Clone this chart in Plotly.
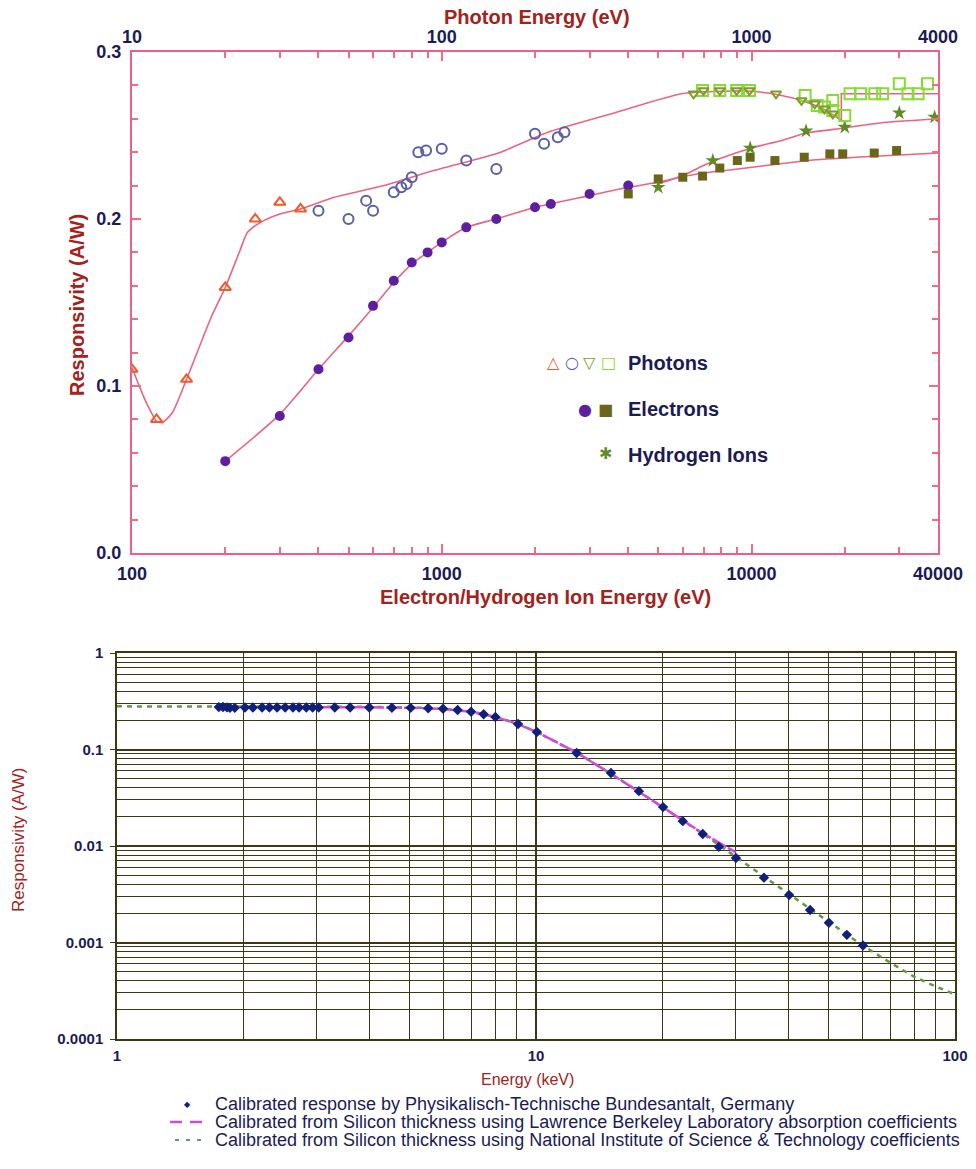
import plotly.graph_objects as go

# ---------------- Upper panel: responsivity vs energy ----------------
# Photon measurements (photon energy in eV, responsivity in A/W)
ph_tri_e = [10, 12, 15, 20, 25, 30, 35]
ph_tri_r = [0.110, 0.080, 0.104, 0.159, 0.200, 0.210, 0.206]

ph_circ_e = [40, 50, 57, 60, 70, 74, 77, 80, 84, 89, 100, 120, 150, 200, 214, 237, 249]
ph_circ_r = [0.205, 0.200, 0.211, 0.205, 0.216, 0.219, 0.221, 0.225, 0.240, 0.241,
             0.242, 0.235, 0.230, 0.251, 0.245, 0.249, 0.252]

ph_vtri_e = [650, 700, 790, 895, 985, 1200, 1450, 1600, 1720, 1830]
ph_vtri_r = [0.275, 0.277, 0.277, 0.277, 0.277, 0.275, 0.271, 0.269, 0.266, 0.263]

ph_sq_e = [695, 790, 895, 985, 1490, 1630, 1720, 1830, 1830, 2000, 2080, 2250,
           2500, 2650, 3000, 3200, 3450, 3700]
ph_sq_r = [0.277, 0.277, 0.277, 0.277, 0.274, 0.268, 0.267, 0.271, 0.265, 0.262,
           0.275, 0.275, 0.275, 0.275, 0.281, 0.275, 0.275, 0.281]

# Photon fit curve (below and above the Si K edge)
ph_fit_e = [10, 11, 12, 12.5, 13.5, 15, 18, 20, 22.3, 23.6, 26, 30, 35, 45, 65, 94,
            134, 155, 220, 360, 594, 800, 1000, 1250, 1450, 1700, 1950]
ph_fit_r = [0.111, 0.092, 0.079, 0.078, 0.084, 0.104, 0.141, 0.159, 0.181, 0.192,
            0.198, 0.203, 0.206, 0.213, 0.220, 0.229, 0.2365, 0.240, 0.252, 0.2635,
            0.275, 0.2765, 0.2765, 0.274, 0.271, 0.266, 0.259]
ph_edge_e = [1950, 1950, 4000]
ph_edge_r = [0.259, 0.275, 0.275]

# Electron measurements (eV)
el_circ_e = [200, 300, 400, 500, 600, 700, 800, 900, 1000, 1200, 1500, 2000, 2250, 3000, 4000]
el_circ_r = [0.055, 0.082, 0.110, 0.129, 0.148, 0.163, 0.174, 0.180, 0.186, 0.195,
             0.200, 0.207, 0.209, 0.215, 0.220]

el_sq_e = [4000, 5000, 6000, 6950, 7900, 9000, 9900, 11900, 14800, 17900, 19700, 24900, 29400]
el_sq_r = [0.215, 0.224, 0.225, 0.2257, 0.2305, 0.235, 0.237, 0.235, 0.237, 0.239,
           0.239, 0.2395, 0.241]

el_fit_e = [200, 300, 400, 500, 600, 700, 800, 900, 1000, 1200, 1500, 2000, 3000,
            4000, 5000, 5900, 7000, 9600, 15800, 26000, 40000]
el_fit_r = [0.055, 0.083, 0.110, 0.130, 0.147, 0.162, 0.173, 0.180, 0.186, 0.195,
            0.200, 0.207, 0.214, 0.219, 0.222, 0.225, 0.2275, 0.2305, 0.2353, 0.2377, 0.2395]

# Hydrogen ion measurements (eV)
h_e = [5000, 7500, 9900, 15000, 20000, 30000, 39000]
h_r = [0.219, 0.235, 0.2425, 0.2527, 0.255, 0.2635, 0.261]

h_fit_e = [5000, 6000, 7000, 8000, 10000, 12500, 15000, 20000, 26000, 40000]
h_fit_r = [0.221, 0.226, 0.232, 0.2365, 0.2425, 0.247, 0.2515, 0.2545, 0.2575, 0.2600]

# Axis ticks
top_ticks = [10, 100, 1000, 4000]
bot_ticks = [100, 1000, 10000, 40000]
y1_ticks = [0.0, 0.1, 0.2, 0.3]

# ---------------- Lower panel: responsivity vs X-ray energy ----------------
ptb_e = [1.75, 1.79, 1.83, 1.86, 1.91, 2.02, 2.11, 2.22, 2.31, 2.41, 2.52, 2.63, 2.72,
         2.83, 2.93, 3.03, 3.31, 3.6, 4.0, 4.53, 5.02, 5.53, 6.0, 6.5, 7.0, 7.5, 8.0,
         9.06, 10.05, 12.5, 15.1, 17.6, 20.1, 22.4, 25.0, 27.3, 30.0, 35.0, 40.2,
         45.1, 50.0, 55.2, 60.3]
ptb_r = [0.275, 0.276, 0.273, 0.270, 0.270, 0.272, 0.272, 0.272, 0.272, 0.272, 0.272,
         0.272, 0.272, 0.272, 0.272, 0.272, 0.272, 0.272, 0.272, 0.271, 0.270, 0.268,
         0.264, 0.257, 0.246, 0.232, 0.217, 0.184, 0.152, 0.092, 0.057, 0.037, 0.0253,
         0.0181, 0.0133, 0.0098, 0.0075, 0.0047, 0.0031, 0.00217, 0.0016, 0.0012, 0.00093]

lbl_e = [1.8, 2, 3, 4, 5, 6, 7, 8, 9, 10, 12.5, 15, 20, 25, 30]
lbl_r = [0.276, 0.276, 0.275, 0.274, 0.271, 0.263, 0.246, 0.217, 0.185, 0.153, 0.093,
         0.057, 0.0255, 0.0135, 0.0086]

nist_e = [1, 2, 3, 4, 5, 6, 7, 8, 9, 10, 12.5, 15, 20, 25, 30, 40, 50, 60, 70, 80, 90, 100]
nist_r = [0.28, 0.28, 0.279, 0.277, 0.273, 0.265, 0.248, 0.218, 0.186, 0.153, 0.093,
          0.057, 0.0255, 0.0134, 0.0077, 0.0032, 0.00162, 0.00094, 0.00062, 0.00044,
          0.00035, 0.00029]

x2_ticks = [1, 10, 100]
y2_ticks = [1, 0.1, 0.01, 0.001, 0.0001]
y2_labels = ["1", "0.1", "0.01", "0.001", "0.0001"]

legend_labels = [
    "Calibrated response by Physikalisch-Technische Bundesantalt, Germany",
    "Calibrated from Silicon thickness using Lawrence Berkeley Laboratory absorption coefficients",
    "Calibrated from Silicon thickness using National Institute of Science & Technology coefficients",
]

# ---------------- styling ----------------
W, H = 976, 1153
NAVY = "#1b1b55"
DRED = "#a3221c"
PINK = "#ec5f8c"
TICK = "#ef6f7f"
GRID = "#3a3912"
PTB_C = "#0f1f7a"
LBL_C = "#d548dc"
NIST_C = "#5f9a45"
FONT = "Liberation Sans"


def px_x(p):
    return p / W


def px_y(p):
    return 1 - p / H


fig = go.Figure()

# ---- upper panel curves ----
fit_line = dict(color="#ea6482", width=1.6)
fig.add_trace(go.Scatter(x=ph_fit_e, y=ph_fit_r, xaxis="x2", yaxis="y", mode="lines",
                         line=dict(shape="spline", smoothing=0.6, **fit_line)))
fig.add_trace(go.Scatter(x=ph_edge_e, y=ph_edge_r, xaxis="x2", yaxis="y", mode="lines",
                         line=fit_line))
fig.add_trace(go.Scatter(x=el_fit_e, y=el_fit_r, xaxis="x", yaxis="y", mode="lines",
                         line=dict(shape="spline", smoothing=0.6, **fit_line)))
fig.add_trace(go.Scatter(x=h_fit_e, y=h_fit_r, xaxis="x", yaxis="y", mode="lines",
                         line=dict(shape="spline", smoothing=0.6, **fit_line)))

# ---- upper panel markers ----
fig.add_trace(go.Scatter(x=ph_tri_e, y=ph_tri_r, xaxis="x2", yaxis="y", mode="markers",
                         marker=dict(symbol="triangle-up-open", size=10, color="#f2592a",
                                     line=dict(width=2))))
fig.add_trace(go.Scatter(x=ph_circ_e, y=ph_circ_r, xaxis="x2", yaxis="y", mode="markers",
                         marker=dict(symbol="circle-open", size=10, color="#5b5fa6",
                                     line=dict(width=2))))
fig.add_trace(go.Scatter(x=ph_sq_e, y=ph_sq_r, xaxis="x2", yaxis="y", mode="markers",
                         marker=dict(symbol="square-open", size=11, color="#86dc34",
                                     line=dict(width=2))))
fig.add_trace(go.Scatter(x=ph_vtri_e, y=ph_vtri_r, xaxis="x2", yaxis="y", mode="markers",
                         marker=dict(symbol="triangle-down-open", size=9, color="#7d9d2a",
                                     line=dict(width=2))))
fig.add_trace(go.Scatter(x=el_circ_e, y=el_circ_r, xaxis="x", yaxis="y", mode="markers",
                         marker=dict(symbol="circle", size=10, color="#5d1fa0")))
fig.add_trace(go.Scatter(x=el_sq_e, y=el_sq_r, xaxis="x", yaxis="y", mode="markers",
                         marker=dict(symbol="square", size=9, color="#6b661c")))
fig.add_trace(go.Scatter(x=h_e, y=h_r, xaxis="x", yaxis="y", mode="markers",
                         marker=dict(symbol="star", size=11, color="#5e8c24")))

# ---- lower panel ----
fig.add_trace(go.Scatter(x=nist_e, y=nist_r, xaxis="x3", yaxis="y3", mode="lines",
                         name=legend_labels[2],
                         line=dict(color=NIST_C, width=2.5, dash="5px,5px")))
fig.add_trace(go.Scatter(x=lbl_e, y=lbl_r, xaxis="x3", yaxis="y3", mode="lines",
                         name=legend_labels[1],
                         line=dict(color=LBL_C, width=2.5, dash="16px,2px")))
fig.add_trace(go.Scatter(x=ptb_e, y=ptb_r, xaxis="x3", yaxis="y3", mode="markers",
                         name=legend_labels[0],
                         marker=dict(symbol="diamond", size=8, color=PTB_C)))

tickfont_top = dict(family=FONT, size=18, color=NAVY, weight="bold")

common_top_x = dict(type="log", showline=True, linecolor=PINK, linewidth=2,
                    ticks="inside", ticklen=9, tickwidth=1.5, tickcolor=TICK,
                    tickfont=tickfont_top, showgrid=False, zeroline=False,
                    automargin=False, fixedrange=True)

minor_top_bot = [200, 300, 400, 500, 600, 700, 800, 900, 2000, 3000, 4000, 5000,
                 6000, 7000, 8000, 9000, 20000, 30000]
minor_top_top = [v / 10 for v in minor_top_bot]

fig.update_layout(
    width=W, height=H,
    margin=dict(l=0, r=0, t=0, b=0),
    paper_bgcolor="white", plot_bgcolor="white",
    font=dict(family=FONT, color=NAVY),
    showlegend=False,
    xaxis=dict(domain=[px_x(132), px_x(938)], anchor="y", range=[2, 4.60206],
               tickvals=bot_ticks, ticktext=[str(v) for v in bot_ticks],
               ticklabelstandoff=3,
               minor=dict(tickmode="array", tickvals=minor_top_bot, ticks="inside",
                          ticklen=6, tickcolor=TICK, tickwidth=1.5),
               **common_top_x),
    xaxis2=dict(domain=[px_x(132), px_x(938)], anchor="y", overlaying="x", side="top",
                range=[1, 3.60206], tickvals=top_ticks, ticktext=[str(v) for v in top_ticks],
                ticklabelstandoff=0,
                minor=dict(tickmode="array", tickvals=minor_top_top, ticks="inside",
                           ticklen=6, tickcolor=TICK, tickwidth=1.5),
                **common_top_x),
    yaxis=dict(domain=[px_y(553), px_y(52)], anchor="x", range=[0, 0.3],
               tickvals=y1_ticks, ticktext=["%.1f" % v for v in y1_ticks],
               showline=True, linecolor=PINK, linewidth=2, mirror="ticks",
               ticks="inside", ticklen=9, tickwidth=1.5, tickcolor=TICK,
               ticklabelstandoff=5,
               minor=dict(dtick=0.02, ticks="inside", ticklen=6, tickcolor=TICK, tickwidth=1.5),
               tickfont=tickfont_top, showgrid=False, zeroline=False,
               automargin=False, fixedrange=True),
    xaxis3=dict(domain=[px_x(117), px_x(955)], anchor="y3", type="log", range=[0, 2],
                tickvals=x2_ticks, ticktext=[str(v) for v in x2_ticks],
                showline=True, linecolor=GRID, linewidth=1.5, mirror=True,
                ticks="", showgrid=True, gridcolor=GRID, gridwidth=1.5,
                minor=dict(tickmode="array",
                           tickvals=[m * d for d in (1, 10) for m in range(2, 10)],
                           showgrid=True, gridcolor=GRID, gridwidth=1.3),
                tickfont=dict(family=FONT, size=15, color=NAVY, weight="bold"),
                ticklabelstandoff=2, zeroline=False, automargin=False, fixedrange=True),
    yaxis3=dict(domain=[px_y(1039), px_y(653)], anchor="x3", type="log", range=[-4, 0],
                tickvals=y2_ticks, ticktext=y2_labels,
                showline=True, linecolor=GRID, linewidth=1.5, mirror=True,
                ticks="outside", ticklen=5, tickcolor=GRID,
                showgrid=True, gridcolor=GRID, gridwidth=1.5,
                minor=dict(tickmode="array",
                           tickvals=[m * d for d in (0.0001, 0.001, 0.01, 0.1) for m in range(2, 10)],
                           showgrid=True, gridcolor=GRID, gridwidth=1.3),
                tickfont=dict(family=FONT, size=15, color=NAVY, weight="bold"),
                ticklabelstandoff=4, zeroline=False, automargin=False, fixedrange=True),
)

# ---- axis titles ----
title_font = dict(family=FONT, size=20, color=DRED, weight="bold")
ann = [
    dict(text="Photon Energy (eV)", x=px_x(442), y=px_y(17), xanchor="left", font=title_font),
    dict(text="Electron/Hydrogen Ion Energy (eV)", x=px_x(713), y=px_y(597),
         xanchor="right", font=title_font),
    dict(text="Responsivity (A/W)", x=px_x(77), y=px_y(305), textangle=-90, font=title_font),
    dict(text="Responsivity (A/W)", x=px_x(18), y=px_y(840), textangle=-90,
         font=dict(family=FONT, size=17, color=DRED)),
    dict(text="Energy (keV)", x=px_x(527), y=px_y(1079),
         font=dict(family=FONT, size=16, color=DRED)),
]

# ---- key for the upper panel ----
key_font = dict(family=FONT, size=20, color=NAVY, weight="bold")
for label, yy in (("Photons", 363), ("Electrons", 409), ("Hydrogen Ions", 455)):
    ann.append(dict(text=label, x=px_x(626), y=px_y(yy), xanchor="left", font=key_font))
key_symbols = [
    ("△", "#f2592a", 553, 363), ("○", "#5b5fa6", 572, 363),
    ("▽", "#7d9d2a", 589, 363), ("□", "#86dc34", 608, 363),
    ("●", "#5d1fa0", 585, 409), ("■", "#6b661c", 605, 409),
    ("✱", "#5e8c24", 605, 454),
]
for ch, col, xx, yy in key_symbols:
    ann.append(dict(text=ch, x=px_x(xx), y=px_y(yy),
                    font=dict(family="DejaVu Sans", size=16, color=col, weight="bold")))

# ---- key for the lower panel ----
row_y = [1104, 1122, 1140]
for label, yy in zip(legend_labels, row_y):
    ann.append(dict(text=label, x=px_x(213), y=px_y(yy), xanchor="left",
                    font=dict(family=FONT, size=18, color=NAVY)))
ann.append(dict(text="◆", x=px_x(187), y=px_y(row_y[0]),
                font=dict(family="DejaVu Sans", size=8, color=PTB_C)))

for a in ann:
    a.setdefault("xanchor", "center")
    a.update(xref="paper", yref="paper", yanchor="middle", showarrow=False)

shapes = [
    dict(type="line", xref="paper", yref="paper",
         x0=px_x(170), x1=px_x(203), y0=px_y(row_y[1]), y1=px_y(row_y[1]),
         line=dict(color=LBL_C, width=2.5, dash="12px,8px")),
    dict(type="line", xref="paper", yref="paper",
         x0=px_x(175), x1=px_x(203), y0=px_y(row_y[2]), y1=px_y(row_y[2]),
         line=dict(color="#5f9a80", width=2, dash="4px,7px")),
]
fig.update_layout(annotations=ann, shapes=shapes)

fig.write_html("out.html")
